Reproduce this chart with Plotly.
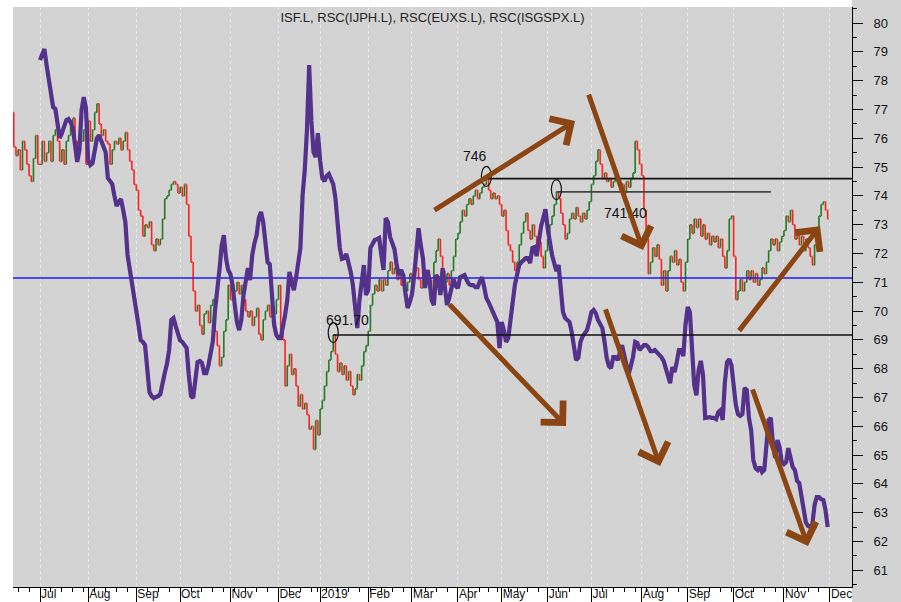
import pandas as pd
import plotly.graph_objects as go

# ---------------- data ----------------
UK_HOLIDAYS = ["2018-08-27", "2018-12-25", "2018-12-26", "2019-01-01", "2019-04-19",
               "2019-04-22", "2019-05-06", "2019-05-27", "2019-08-26"]
dates = pd.bdate_range("2018-06-14", "2019-11-29", freq="C", holidays=UK_HOLIDAYS)

FIRST_OPEN = 769.0
# ISF.L daily closes (pence)
closes = [
    757, 754, 756, 749, 759, 756, 751, 747, 745, 753, 761, 751,
    751, 759, 752, 755, 759, 752, 761, 763, 759, 752, 756, 751, 759, 761, 765, 767, 759, 757, 761, 759, 763, 751,
    766, 759, 763, 769, 772, 765, 761, 763, 759, 758, 751, 756, 759, 758, 760, 756, 759, 762, 756, 752, 749, 744,
    742, 735, 733, 726, 730, 729, 731, 723, 721, 725, 723, 725, 732, 739, 740, 742, 744, 745, 744, 741,
    743, 740, 744, 737, 726, 717, 707, 700, 702, 695, 692, 699, 700, 696, 702, 704, 693, 688, 681, 684, 693, 697, 709,
    704, 706, 707, 710, 706, 709, 704, 700, 698, 700, 695, 698, 701, 692, 690, 697, 700, 702, 698, 700, 699, 704,
    709, 693, 690, 674, 681, 685, 678, 680, 674, 667, 671, 666, 668, 664, 659, 660, 652, 662, 657,
    666, 669, 674, 679, 683, 686, 691.7, 685, 679, 682, 678, 681, 676, 679, 674, 671, 673, 678, 676, 681, 686, 688,
    693, 702, 706, 709, 707, 711, 707, 711, 709, 714, 717, 713, 715, 711, 714, 709, 711, 707, 710, 713,
    709, 714, 715, 711, 708, 713, 710, 714, 711, 707, 717, 721, 725, 719, 714, 710, 713, 709, 714, 719, 725,
    727, 731, 735, 733, 737, 739, 737, 740, 742, 739, 741, 743, 744, 746, 742, 739, 741, 739, 740, 737,
    733, 735, 728, 723, 721, 717, 714, 717, 723, 727, 731, 734, 728, 725, 730, 726, 722, 724, 719, 715, 721,
    725, 730, 733, 737, 741.4, 739, 734, 730, 725, 727, 732, 734, 732, 736, 733, 731, 734, 732, 735, 738,
    744, 747, 752, 756, 751, 746, 748, 745, 746, 743, 745, 747, 745, 742, 744, 741, 745, 743, 746, 748, 759, 756, 751,
    747, 735, 725, 713, 717, 722, 719, 723, 718, 709, 714, 707, 714, 719, 717, 721, 716, 718, 710, 707, 717,
    725, 730, 727, 732, 729, 732, 726, 730, 725, 727, 723, 726, 724, 726, 722, 725, 719, 715, 721, 732, 733,
    719, 704, 707, 711, 707, 710, 714, 711, 714, 710, 713, 709, 711, 715, 713, 717, 721, 725, 723, 725, 721, 724, 726,
    728, 733, 731, 735, 730, 725, 727, 723, 726, 721, 725, 722, 719, 716, 723, 729, 733, 737, 738, 735, 732,
]

# relative strength line (own scale), starts 2018-07-02
RSC_START = "2018-07-02"
rsc = [
    78.72, 78.89, 79.10, 78.54, 78.02, 77.74, 77.08, 77.02, 76.46, 76.01,
    76.18, 76.46, 76.63, 76.67, 76.56, 76.36, 75.77, 75.18, 75.59, 76.98,
    77.43, 77.05, 75.24, 75.07, 75.14, 75.59, 76.01, 76.11, 75.94, 75.73,
    75.52, 74.62, 74.48, 74.41, 74.00, 73.65, 73.79, 73.89, 73.51, 73.09,
    71.95, 71.49, 71.11, 70.66, 70.11, 69.52, 68.99, 68.93, 68.82, 67.95,
    67.19, 67.05, 66.98, 67.02, 67.05, 67.12, 67.54, 67.85, 68.16, 68.65,
    69.69, 69.76, 69.48, 69.27, 68.99, 68.93, 68.82, 68.72, 67.78, 67.05,
    66.98, 67.54, 68.23, 68.27, 68.20, 67.85, 67.85, 68.13, 68.65, 68.96,
    70.04, 70.63, 71.43, 72.26, 72.64, 71.84, 71.43, 71.29, 70.90, 70.21,
    69.62, 69.34, 69.69, 70.56, 71.08, 71.49, 71.08, 71.95, 72.36, 72.64,
    73.23, 73.44, 73.09, 72.47, 71.70, 71.63, 70.38, 69.52, 69.17, 69.06,
    69.06, 69.41, 69.86, 70.38, 71.36, 71.01, 70.73, 71.15, 71.70, 72.19,
    74.03, 74.90, 76.29, 78.54, 76.63, 75.52, 75.35, 76.18, 75.24, 74.62,
    74.51, 74.69, 74.76, 74.58, 74.41, 73.93, 73.09, 72.19, 71.81, 71.84,
    71.98, 71.70, 71.36, 70.90, 70.04, 69.41, 70.38, 71.15, 71.60, 70.56,
    70.73, 72.19, 72.36, 72.47, 72.50, 72.54, 71.95, 71.43, 73.23, 73.09,
    72.57, 72.40, 72.15, 71.60, 71.25, 71.43, 71.25, 70.63, 70.11, 70.31,
    70.59, 71.22, 72.12, 72.88, 72.29, 71.84, 70.80, 71.43, 71.08, 70.38,
    70.21, 71.25, 71.15, 70.56, 71.49, 70.90, 70.21, 70.45, 70.87, 71.11,
    70.87, 70.80, 71.18, 71.22, 71.25, 71.08, 70.94, 70.90, 70.90, 70.83,
    70.83, 71.04, 71.18, 70.83, 70.45, 70.31, 70.14, 70.00, 69.83, 69.62,
    68.72, 69.62, 69.34, 68.93, 69.06, 69.76, 70.52, 70.90, 71.25, 71.60,
    71.70, 71.77, 71.84, 71.84, 71.67, 72.19, 72.22, 71.91, 72.47, 72.95,
    73.23, 73.54, 72.88, 72.29, 71.95, 71.67, 71.39, 71.60, 70.73, 69.97,
    69.76, 69.69, 69.62, 69.27, 68.79, 68.30, 68.37, 68.93, 69.13, 69.24,
    69.34, 69.62, 69.97, 70.04, 69.93, 69.69, 69.52, 69.41, 68.93, 68.37,
    68.09, 68.02, 68.40, 68.40, 68.30, 68.58, 68.82, 68.47, 68.06, 67.81,
    68.09, 68.40, 68.93, 68.89, 68.65, 68.75, 68.82, 68.82, 68.75, 68.61,
    68.61, 68.65, 68.58, 68.47, 68.40, 68.27, 67.99, 67.74, 67.50, 68.06,
    67.88, 68.23, 68.65, 68.65, 68.44, 69.52, 70.14, 69.97, 68.47, 67.43,
    67.08, 67.95, 68.27, 67.78, 66.29, 66.32, 66.32, 66.29, 66.29, 66.25,
    66.49, 66.56, 66.22, 67.54, 68.23, 68.33, 68.13, 67.43, 66.74, 66.42,
    66.36, 66.42, 67.33, 67.26, 66.29, 65.87, 64.83, 64.55, 64.48, 64.59,
    64.41, 64.48, 65.52, 66.22, 66.29, 65.35, 64.90, 65.52, 65.28, 64.76,
    64.69, 64.76, 65.24, 64.83, 64.59, 64.48, 64.10, 64.03, 63.61, 63.02,
    62.67, 62.54, 62.50, 62.61, 63.27, 63.54, 63.54, 63.47, 63.44, 63.09, 62.50,
]

TITLE = "ISF.L, RSC(IJPH.L), RSC(EUXS.L), RSC(ISGSPX.L)"
BLUE_LEVEL = 711.5
# (marked date, price level, label, line end date or None = right edge)
levels = [
    ("2019-04-18", 746.0, "746", None),
    ("2019-06-07", 741.40, "741.40", "2019-10-24"),
    ("2019-01-10", 691.70, "691.70", None),
]
# hand-drawn trend arrows: (from bar, from price, to bar, to price)
trend_arrows = [
    (191.6, 734.7, 256.5, 766.0),
    (262.5, 775.7, 287.6, 721.2),
    (198.5, 702.8, 252.4, 660.1),
    (270.2, 701.1, 295.4, 646.2),
    (331.0, 692.7, 368.5, 729.5),
    (337.4, 673.3, 363.0, 618.4),
]

# ---------------- derived ----------------
assert len(closes) == len(dates)
opens = [FIRST_OPEN] + closes[:-1]
highs = [max(o, c) for o, c in zip(opens, closes)]
lows = [min(o, c) for o, c in zip(opens, closes)]
pos = list(range(len(dates)))
rsc_i0 = dates.get_loc(pd.Timestamp(RSC_START))
rsc_x = list(range(rsc_i0, rsc_i0 + len(rsc)))


def bar_of(d):
    return dates.get_loc(pd.Timestamp(d))


# month / week ticks (plus next month start after data: Dec 2019)
tick_vals, tick_text, week_vals = [], [], []
for k in range(1, len(dates)):
    d, p = dates[k], dates[k - 1]
    if d.month != p.month:
        tick_vals.append(k)
        tick_text.append(str(d.year) if d.month == 1 else d.strftime("%b"))
    elif d.isocalendar()[1] != p.isocalendar()[1]:
        week_vals.append(k)
tick_vals.append(len(dates))  # 2019-12-02
tick_text.append("Dec")

X_RANGE = [-0.35, 383.1]
Y_RANGE = [604.2, 805.6]
Y2_RANGE = [Y_RANGE[0] / 10, Y_RANGE[1] / 10]

FONT = "Liberation Sans, Arial, sans-serif"

fig = go.Figure()
fig.add_trace(go.Ohlc(
    x=pos, open=opens, high=highs, low=lows, close=closes,
    increasing=dict(line=dict(color="#237a23", width=1.6)),
    decreasing=dict(line=dict(color="#ff2020", width=1.6)),
    tickwidth=0.45, hoverinfo="skip", showlegend=False,
))
fig.add_trace(go.Scatter(
    x=X_RANGE, y=[BLUE_LEVEL, BLUE_LEVEL], mode="lines",
    line=dict(color="#1a1aff", width=1.6), hoverinfo="skip", showlegend=False,
))
fig.add_trace(go.Scatter(
    x=rsc_x, y=rsc, mode="lines", yaxis="y2",
    line=dict(color="#54318a", width=4.2), hoverinfo="skip", showlegend=False,
))

shapes = [dict(type="rect", xref="paper", yref="paper", x0=1, x1=1.2, y0=-0.2, y1=1.2,
               fillcolor="#d3d3d3", line=dict(width=0), layer="below")]
annotations = []
line_colors = ["#111111", "#444444", "#111111"]
for (d, lvl, lab, end), lc in zip(levels, line_colors):
    b = bar_of(d)
    x_end = X_RANGE[1] if end is None else bar_of(end)
    shapes.append(dict(type="line", xref="x", yref="y", x0=b, x1=x_end, y0=lvl, y1=lvl,
                       line=dict(color=lc, width=1.6), layer="above"))
    shapes.append(dict(type="circle", xref="x", yref="y", xsizemode="pixel", ysizemode="pixel",
                       xanchor=b, yanchor=lvl + 0.8, x0=-5, x1=5, y0=-10, y1=10,
                       line=dict(color="#111111", width=1.2), layer="above"))

label_offsets = {"746": (-11, 23), "741.40": (69, -21), "691.70": (14, 15)}
for d, lvl, lab, end in levels:
    dx, dy = label_offsets[lab]
    annotations.append(dict(x=bar_of(d), y=lvl, xref="x", yref="y", text=lab, showarrow=False,
                            xshift=dx, yshift=dy, font=dict(family=FONT, size=14, color="#111111")))

for x0, y0, x1, y1 in trend_arrows:
    annotations.append(dict(x=x1, y=y1, ax=x0, ay=y0, xref="x", yref="y", axref="x", ayref="y",
                            text="", showarrow=True, arrowhead=4, arrowsize=1.2, arrowwidth=5,
                            arrowcolor="#8b4513", standoff=0))

fig.update_layout(
    width=901, height=602,
    margin=dict(l=13, r=49, t=7, b=15, autoexpand=False),
    paper_bgcolor="white", plot_bgcolor="#d3d3d3",
    font=dict(family=FONT, size=13, color="#111111"),
    title=dict(text=TITLE, x=0.5, xref="paper", y=1 - 17 / 602, yref="container",
               xanchor="center", yanchor="middle", font=dict(family=FONT, size=13, color="#222222")),
    showlegend=False, hovermode=False,
    shapes=shapes, annotations=annotations,
    xaxis=dict(
        range=X_RANGE, tickmode="array", tickvals=tick_vals, ticktext=tick_text,
        ticks="outside", ticklen=15, tickcolor="black", tickwidth=1,
        ticklabelposition="outside right", ticklabelstandoff=-4, automargin=False,
        showline=True, linecolor="black", linewidth=1,
        showgrid=True, gridcolor="#e9e9e9", griddash="dot", gridwidth=1, zeroline=False,
        tickfont=dict(family=FONT, size=12, color="#111111"),
        minor=dict(tickmode="array", tickvals=week_vals, ticks="outside", ticklen=4,
                   tickcolor="black", tickwidth=1, showgrid=False),
        rangeslider=dict(visible=False), fixedrange=True,
    ),
    yaxis=dict(
        side="right", range=Y_RANGE, tickmode="array", automargin=False,
        tickvals=list(range(610, 801, 10)), ticktext=[str(v // 10) for v in range(610, 801, 10)],
        ticks="outside", ticklen=10, tickcolor="black", tickwidth=1, ticklabelstandoff=8,
        showline=True, linecolor="black", linewidth=1, showgrid=False, zeroline=False,
        tickfont=dict(family=FONT, size=13, color="#111111"),
        minor=dict(tickmode="array", tickvals=list(range(605, 806, 10)), ticks="outside",
                   ticklen=4, tickcolor="black", tickwidth=1, showgrid=False),
        fixedrange=True,
    ),
    yaxis2=dict(overlaying="y", range=Y2_RANGE, visible=False, fixedrange=True),
)

fig.write_html("out.html", config={"displayModeBar": False},
               post_script="document.body.style.margin='0px';")
